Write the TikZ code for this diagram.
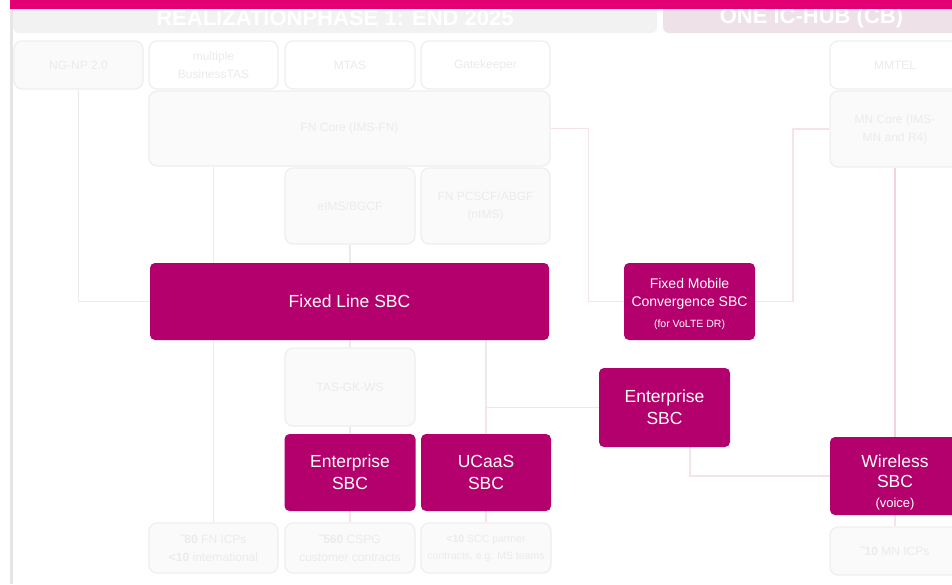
\documentclass[tikz,border=0pt]{standalone}
\usepackage{fontspec}
\setmainfont{Liberation Sans}
\usetikzlibrary{backgrounds}

\definecolor{topbar}{HTML}{E20074}
\definecolor{sbcmag}{HTML}{B4006C}
\definecolor{ghostfill}{HTML}{FAFAFA}
\definecolor{ghostdraw}{HTML}{EEEEEE}
\definecolor{ghosttext}{HTML}{EBEBEB}
\definecolor{headgray}{HTML}{F2F2F2}
\definecolor{headpink}{HTML}{EEE1E7}
\definecolor{glinecol}{HTML}{EBEBEB}
\definecolor{plinecol}{HTML}{F5E2EA}
\definecolor{pstrong}{HTML}{F0D5E0}
\definecolor{leftbar}{HTML}{E6E6E6}

\newcommand{\aprx}{\symbol{"02DC}}

\begin{document}
\begin{tikzpicture}[x=1pt, y=-1pt,
    wh/.style 2 args={minimum width=#1, minimum height=#2},
    ghost/.style={draw=ghostdraw, fill=ghostfill, line width=1.2pt, rounded corners=8pt, inner sep=0pt,
        align=center, text=ghosttext, font=\fontsize{12}{18}\selectfont},
    topbox/.style={ghost, fill=white},
    sbc/.style={fill=sbcmag, rounded corners=5pt, inner sep=0pt, align=center, text=white,
        font=\fontsize{17.5}{22}\selectfont},
    head/.style={rounded corners=6pt, inner sep=0pt, text=white, font=\fontsize{22}{24}\bfseries\selectfont},
    gline/.style={draw=glinecol, line width=1.5pt},
    pline/.style={draw=plinecol, line width=1.5pt}]
    \useasboundingbox (0,0) rectangle (952,584);
    \fill[leftbar] (10,8) rectangle (13,584);

    \node[head, fill=headgray, wh={644}{31}] (phase) at (335,17.5) {REALIZATIONPHASE 1: END 2025};
    \node[head, fill=headpink, wh={297}{31}] (hub) at (811.5,17.5) {ONE IC-HUB (CB)};

    \node[ghost, wh={129}{48}] (ngnp) at (78.5,65) {NG-NP 2.0};
    \node[topbox, wh={129}{48}] (btas) at (213.5,65) {multiple\\BusinessTAS};
    \node[topbox, wh={130}{48}] (mtas) at (350,65) {MTAS};
    \node[topbox, wh={129}{48}] (gk) at (485.5,65) {Gatekeeper};
    \node[ghost, wh={401}{75}] (fncore) at (349.5,128.5) {FN Core (IMS-FN)};
    \node[ghost, wh={130}{76}] (eims) at (350,206) {eIMS/BGCF};
    \node[ghost, wh={129}{76}] (pcscf) at (485.5,206) {FN PCSCF/ABGF\\(nIMS)};
    \node[ghost, wh={130}{78}] (tasgk) at (350,387) {TAS-GK-WS};
    \node[ghost, wh={129}{50}] (icp) at (213.5,548) {\textbf{\aprx80} FN ICPs\\\textbf{<10} international};
    \node[ghost, wh={130}{50}] (cspg) at (350,548) {\textbf{\aprx560} CSPG\\customer contracts};
    \node[ghost, wh={130}{50}, font=\fontsize{10.5}{17}\selectfont] (scc) at (486,548) {\textbf{<10} SCC partner\\contracts, e.g. MS teams};
    \node[topbox, wh={130}{48}] (mmtel) at (895,65) {MMTEL};
    \node[ghost, wh={130}{76}] (mncore) at (895,129) {MN Core (IMS-\\MN and R4)};
    \node[ghost, wh={130}{48}] (mnicp) at (895,551) {\textbf{\aprx10} MN ICPs};

    \node[sbc, wh={399}{77}] (fixsbc) at (349.5,301.5) {Fixed Line SBC};
    \node[sbc, wh={131}{77}] (entl) at (350,472.5) {Enterprise\\SBC};
    \node[sbc, wh={130}{77}] (ucaas) at (486,472.5) {UCaaS\\SBC};
    \node[sbc, wh={131}{77}, font=\fontsize{14}{18}\selectfont] (fmc) at (689.5,301.5)
        {\rule{0pt}{16pt}Fixed Mobile\\Convergence SBC\\[3pt]{\fontsize{10.5}{14}\selectfont (for VoLTE DR)}};
    \node[sbc, wh={131}{79}] (entr) at (664.5,407.5) {Enterprise\\SBC};
    \node[sbc, wh={130}{78}, font=\fontsize{17.5}{20}\selectfont] (wless) at (895,476)
        {\rule{0pt}{26pt}Wireless\\SBC\\{\fontsize{13}{20.5}\selectfont (voice)}};

    \begin{scope}[on background layer]
        \draw[gline] (ngnp) |- (fixsbc);
        \draw[gline] (icp.north) -- (icp.north |- fncore.south);
        \draw[gline] (eims.south) -- (eims.south |- fixsbc.north);
        \draw[gline] (tasgk.north) -- (tasgk.north |- fixsbc.south);
        \draw[gline] (tasgk) -- (entl);
        \draw[gline] (ucaas.north |- fixsbc.south) -- (ucaas.north);
        \draw[pline] (entl) -- (cspg);
        \draw[pline] (entr.west) -| (ucaas.north);
        \draw[pline] (ucaas) -- (scc);
        \draw[pline] (fncore.east) -- ++(38,0) |- (fmc);
        \draw[pline] (fmc.east) -- ++(38,0) |- (mncore);
        \draw[pstrong, line width=1.8pt] (mncore) -- (wless);
        \draw[pline] (wless) -- (mnicp);
        \draw[pline] ([xshift=25.5]entr.south) |- (wless);
    \end{scope}

    \fill[topbar] (10,0) rectangle (952,8.5);
\end{tikzpicture}
\end{document}
